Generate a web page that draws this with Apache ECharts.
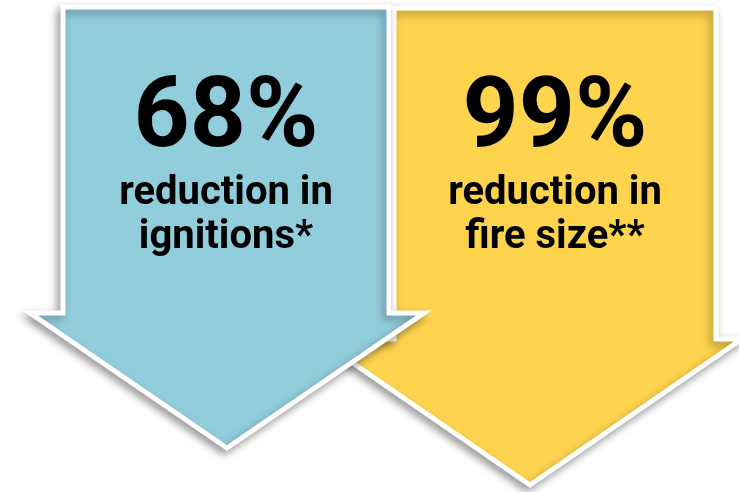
<!DOCTYPE html>
<html>
<head>
<meta charset="utf-8">
<script src="https://cdn.jsdelivr.net/npm/echarts@6/dist/echarts.min.js"></script>
<style>
  html, body { margin: 0; padding: 0; background: #fff; }
  #chart { width: 739px; height: 492px; }
</style>
</head>
<body>
<div id="chart"></div>
<script>
// ---- data ----
const categories = ['ignitions', 'fire size'];
const values = [68, 99];
const captionLine1 = ['reduction in', 'reduction in'];
const captionLine2 = ['ignitions*', 'fire size**'];

// ---- styles (arrow geometry in px offsets from the category centre) ----
const arrowColors = ['#92CDDC', '#FED44F'];
const arrowShapes = [
  { half: 163, top: 7, shaftBottom: 313, headL: -196, headR: 198, tipDx: 1, tipY: 448, z: 2 },
  { half: 161, top: 8, shaftBottom: 339, headL: -237, headR: 187, tipDx: -25, tipY: 485, z: 1 }
];

const chart = echarts.init(document.getElementById('chart'), null, { renderer: 'canvas' });

function renderItem(params, api) {
  const i = params.dataIndex;
  const cx = api.coord([api.value(0), 0])[0];
  const s = arrowShapes[i];
  const pts = [
    [cx - s.half, s.top],
    [cx + s.half, s.top],
    [cx + s.half, s.shaftBottom],
    [cx + s.headR, s.shaftBottom],
    [cx + s.tipDx, s.tipY],
    [cx + s.headL, s.shaftBottom],
    [cx - s.half, s.shaftBottom]
  ];
  const font = 'Roboto, "Noto Sans", sans-serif';
  return {
    type: 'group',
    z2: s.z * 10,
    children: [
      {
        type: 'polygon',
        z2: s.z * 10,
        shape: { points: pts },
        style: {
          fill: arrowColors[i],
          stroke: '#ffffff',
          lineWidth: 5,
          lineJoin: 'miter',
          shadowBlur: 9,
          shadowColor: 'rgba(0,0,0,0.35)',
          shadowOffsetX: -3,
          shadowOffsetY: 4
        }
      },
      {
        type: 'text',
        z2: s.z * 10 + 1,
        x: cx, y: 121,
        style: {
          text: api.value(1) + '%',
          fill: '#000',
          font: 'bold 98px ' + font,
          align: 'center',
          verticalAlign: 'middle'
        }
      },
      {
        type: 'text',
        z2: s.z * 10 + 1,
        x: cx, y: 172,
        style: {
          text: captionLine1[i] + '\n' + captionLine2[i],
          fill: '#000',
          fontFamily: font,
          fontWeight: 'bold',
          fontSize: 40,
          lineHeight: 44,
          align: 'center',
          verticalAlign: 'top'
        }
      }
    ]
  };
}

const option = {
  animation: false,
  backgroundColor: '#ffffff',
  grid: { left: 61.5, right: 19.5, top: 0, bottom: 0 },
  xAxis: { type: 'category', data: categories, show: false },
  yAxis: { type: 'value', min: 0, max: 100, show: false },
  series: [{
    type: 'custom',
    renderItem: renderItem,
    clip: false,
    data: values.map((v, i) => [i, v])
  }]
};
chart.setOption(option);
</script>
</body>
</html>
